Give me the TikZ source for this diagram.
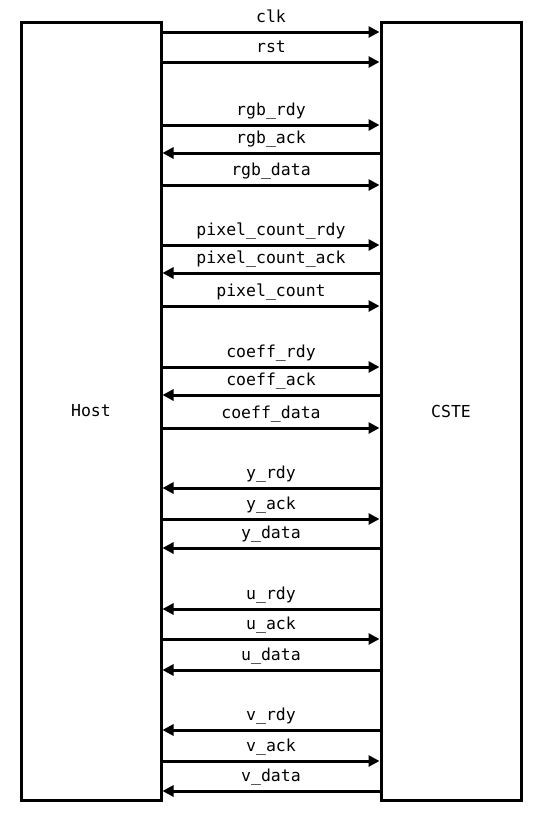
\documentclass[tikz,border=0pt]{standalone}
\usepackage{fontspec}
\setmonofont{DejaVu Sans Mono}
\usetikzlibrary{arrows.meta}
\begin{document}
\begin{tikzpicture}[x=1pt,y=-1pt,
  block/.style={draw=black,line width=3pt,fill=white,minimum width=140pt,minimum height=778pt,inner sep=0pt,font=\ttfamily\fontsize{16.5pt}{18pt}\selectfont},
  sig/.style={line width=3pt},
  fwd/.style={sig,-{Triangle[length=11pt,width=11pt]}},
  bwd/.style={sig,{Triangle[length=11pt,width=11pt]}-},
  lbl/.style={midway,anchor=base,yshift=10pt,inner sep=0pt,font=\ttfamily\fontsize{16.5pt}{18pt}\selectfont}]
\useasboundingbox (0,0) rectangle (547,823);
\node[block] (host) at (91,411) {Host};
\node[block] (cste) at (451,411) {CSTE};
\foreach \y/\t/\d in {32/clk/fwd,62/rst/fwd,
  125/rgb\_rdy/fwd,153/rgb\_ack/bwd,185/rgb\_data/fwd,
  245/pixel\_count\_rdy/fwd,273/pixel\_count\_ack/bwd,306/pixel\_count/fwd,
  367/coeff\_rdy/fwd,395/coeff\_ack/bwd,428/coeff\_data/fwd,
  488/y\_rdy/bwd,519/y\_ack/fwd,548/y\_data/bwd,
  609/u\_rdy/bwd,639/u\_ack/fwd,670/u\_data/bwd,
  730/v\_rdy/bwd,761/v\_ack/fwd,791/v\_data/bwd}
  \draw[\d] (host.east |- 0,\y) -- (cste.west |- 0,\y) node[lbl] {\t};
\end{tikzpicture}
\end{document}
